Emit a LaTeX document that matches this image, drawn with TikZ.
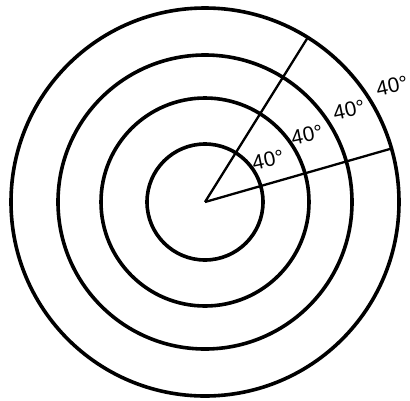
\documentclass[tikz,border=0pt]{standalone}
\usepackage{fontspec}
\setmainfont{Liberation Sans}
\usetikzlibrary{calc}
\begin{document}
\begin{tikzpicture}[x=1pt,y=-1pt,
  ring/.style={line width=3.6pt},
  ray/.style={line width=2.3pt},
  lbl/.style={font=\fontsize{21}{22}\selectfont, rotate=12, inner sep=0pt}]
\useasboundingbox (0,0) rectangle (410,400);
\coordinate (c) at (205,202);
\draw[ring] (c) circle[radius=58];
\draw[ring] (c) circle[radius=104];
\draw[ring] (c) circle[radius=147];
\draw[ring] (c) circle[radius=194];
\draw[ray] (c) -- ++(-58:194) coordinate (a1);
\draw[ray] (c) -- ++(-16:194) coordinate (a2);
\node[lbl] (t1) at (268,160) {40°};
\node[lbl] (t2) at (307,135) {40°};
\node[lbl] (t3) at (349,110) {40°};
\node[lbl] (t4) at (392,86) {40°};
\end{tikzpicture}
\end{document}
